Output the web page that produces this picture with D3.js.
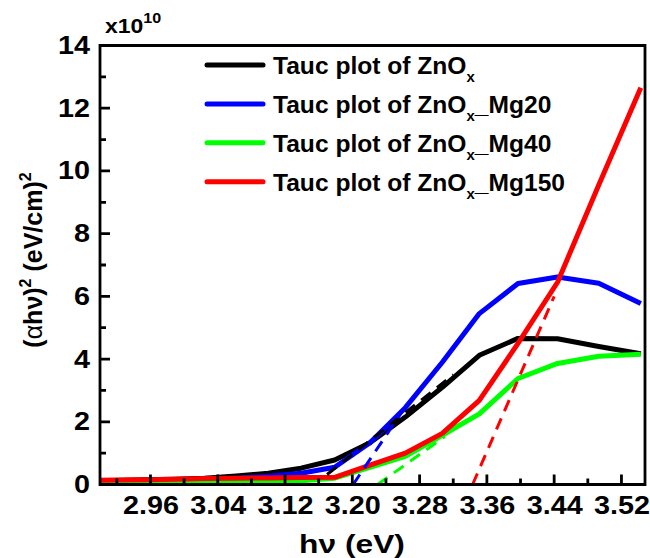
<!DOCTYPE html>
<html>
<head>
<meta charset="utf-8">
<script src="https://cdn.jsdelivr.net/npm/d3@7"></script>
<style>
  html, body { margin: 0; padding: 0; background: #fff; }
  svg { display: block; font-family: "Liberation Sans", Arial, sans-serif; }
</style>
</head>
<body>
<svg id="chart" width="650" height="558"></svg>
<script>
// Photon energy of each sample point (eV)
const photonEnergy = [3.543, 3.493, 3.444, 3.397, 3.351, 3.307, 3.263, 3.221, 3.179, 3.139, 3.100, 3.062, 3.024, 2.988, 2.952, 2.918, 2.884];

// (alpha h nu)^2 in units of 1e10 (eV/cm)^2
const taucZnO     = [4.17, 4.40, 4.65, 4.66, 4.12, 3.10, 2.15, 1.33, 0.78, 0.52, 0.36, 0.27, 0.20, 0.17, 0.15, 0.13, 0.12];
const taucMg20    = [5.77, 6.42, 6.62, 6.41, 5.45, 3.90, 2.45, 1.33, 0.55, 0.36, 0.26, 0.20, 0.16, 0.14, 0.12, 0.11, 0.10];
const taucMg40    = [4.15, 4.09, 3.86, 3.38, 2.25, 1.57, 0.90, 0.55, 0.20, 0.12, 0.09, 0.07, 0.06, 0.05, 0.04, 0.04, 0.04];
const taucMg150   = [12.65, 9.55, 6.45, 4.50, 2.68, 1.63, 1.00, 0.62, 0.23, 0.22, 0.21, 0.20, 0.19, 0.17, 0.15, 0.14, 0.13];

// Linear band-edge fits (two end points each: energy, value)
const fitZnOEnergy   = [3.170, 3.320];
const fitZnOValue    = [0.32, 3.50];
const fitMg20Energy  = [3.201, 3.262];
const fitMg20Value   = [0.00, 2.44];
const fitMg40Energy  = [3.230, 3.310];
const fitMg40Value   = [0.00, 1.53];
const fitMg150Energy = [3.343, 3.440];
const fitMg150Value  = [0.00, 6.00];

const legendSuffix = ["", "_Mg20", "_Mg40", "_Mg150"];
const seriesColors = ["#000000", "#0000ff", "#00ff00", "#ff0000"];

const xMajorTicks = [2.96, 3.04, 3.12, 3.20, 3.28, 3.36, 3.44, 3.52];
const xMinorTicks = [2.92, 3.00, 3.08, 3.16, 3.24, 3.32, 3.40, 3.48];
const yMajorTicks = [0, 2, 4, 6, 8, 10, 12, 14];
const yMinorTicks = [1, 3, 5, 7, 9, 11, 13];

const series = [taucZnO, taucMg20, taucMg40, taucMg150];
const fits = [
  [fitZnOEnergy, fitZnOValue],
  [fitMg20Energy, fitMg20Value],
  [fitMg40Energy, fitMg40Value],
  [fitMg150Energy, fitMg150Value]
];

const FONT = '"Liberation Sans", Arial, sans-serif';
const SX = 1.15; // horizontal text stretch

const svg = d3.select("#chart");
const plot = { left: 100, right: 645, top: 45.5, bottom: 484.5 };

const x = d3.scaleLinear().domain([2.9, 3.548]).range([plot.left, plot.right]);
const y = d3.scaleLinear().domain([0, 14]).range([plot.bottom, plot.top]);

svg.append("defs").append("clipPath").attr("id", "plotClip")
  .append("rect")
  .attr("x", plot.left).attr("y", plot.top)
  .attr("width", plot.right - plot.left).attr("height", plot.bottom - plot.top);

// Curves
const line = d3.line().x(d => x(d[0])).y(d => y(d[1]));
const curveLayer = svg.append("g").attr("clip-path", "url(#plotClip)");
series.forEach((vals, i) => {
  curveLayer.append("path")
    .datum(photonEnergy.map((e, k) => [e, vals[k]]))
    .attr("d", line)
    .attr("fill", "none")
    .attr("stroke", seriesColors[i])
    .attr("stroke-width", 5)
    .attr("stroke-linejoin", "round");
});

// Dashed linear fits
fits.forEach((f, i) => {
  curveLayer.append("path")
    .datum(f[0].map((e, k) => [e, f[1][k]]))
    .attr("d", line)
    .attr("fill", "none")
    .attr("stroke", seriesColors[i])
    .attr("stroke-width", 3)
    .attr("stroke-dasharray", "12,8");
});

// Frame plus inward tick marks in a single path
const framePath = d3.path();
framePath.rect(plot.left, plot.top, plot.right - plot.left, plot.bottom - plot.top);
xMajorTicks.forEach(d => { framePath.moveTo(x(d), plot.bottom); framePath.lineTo(x(d), plot.bottom - 10); });
xMinorTicks.forEach(d => { framePath.moveTo(x(d), plot.bottom); framePath.lineTo(x(d), plot.bottom - 6); });
yMajorTicks.forEach(d => { framePath.moveTo(plot.left, y(d)); framePath.lineTo(plot.left + 10, y(d)); });
yMinorTicks.forEach(d => { framePath.moveTo(plot.left, y(d)); framePath.lineTo(plot.left + 6, y(d)); });
svg.append("path").attr("d", framePath.toString())
  .attr("fill", "none").attr("stroke", "#000").attr("stroke-width", 2.8);

// Axis labels from d3 axes
function styleAxis(g) {
  g.select(".domain").remove();
  g.selectAll(".tick line").remove();
  g.attr("font-family", FONT).attr("font-size", 25).attr("font-weight", "bold");
  g.selectAll(".tick text").style("fill", "#000").attr("transform", `scale(${SX},1)`);
}

const xAxis = svg.append("g").attr("transform", `translate(0,${plot.bottom})`)
  .call(d3.axisBottom(x).tickValues(xMajorTicks).tickSize(0)
    .tickPadding(11.5).tickFormat(d3.format(".2f")));
styleAxis(xAxis);

const yAxis = svg.append("g").attr("transform", `translate(${plot.left},0)`)
  .call(d3.axisLeft(y).tickValues(yMajorTicks).tickSize(0)
    .tickPadding(8.7).tickFormat(d3.format("d")));
styleAxis(yAxis);

// Scale factor label
const mult = svg.append("g").attr("transform", `translate(105,33) scale(${SX},1)`)
  .append("text").attr("font-family", FONT).attr("font-weight", "bold").attr("font-size", 20);
mult.append("tspan").text("x10");
mult.append("tspan").attr("font-size", 14).attr("dy", -10).text("10");

// Axis titles
svg.append("g").attr("transform", "translate(352,553) scale(1.22,1)")
  .append("text").attr("text-anchor", "middle")
  .attr("font-family", FONT).attr("font-weight", "bold").attr("font-size", 26)
  .text("hν (eV)");

const yt = svg.append("g").attr("transform", "translate(42,260) rotate(-90)")
  .append("text").attr("text-anchor", "middle")
  .attr("font-family", FONT).attr("font-weight", "bold").attr("font-size", 25);
yt.append("tspan").text("(");
yt.append("tspan").attr("font-weight", "normal").text("α");
yt.append("tspan").text("hν)");
yt.append("tspan").attr("font-size", 16).attr("dy", -11).text("2");
yt.append("tspan").attr("dy", 11).text(" (eV/cm)");
yt.append("tspan").attr("font-size", 16).attr("dy", -11).text("2");

// Legend
const legendY0 = 65, legendStep = 38.9;
legendSuffix.forEach((suffix, i) => {
  const ly = legendY0 + i * legendStep;
  svg.append("line")
    .attr("x1", 207).attr("x2", 263).attr("y1", ly).attr("y2", ly)
    .attr("stroke", seriesColors[i]).attr("stroke-width", 5).attr("stroke-linecap", "round");
  const t = svg.append("g").attr("transform", `translate(273,${ly + 9}) scale(1.07,1)`)
    .append("text").attr("font-family", FONT).attr("font-weight", "bold").attr("font-size", 23);
  t.append("tspan").text("Tauc plot of ZnO");
  t.append("tspan").attr("font-size", 14).attr("dy", 8).text("x");
  if (suffix) t.append("tspan").attr("dy", -8).text(suffix);
});
</script>
</body>
</html>
